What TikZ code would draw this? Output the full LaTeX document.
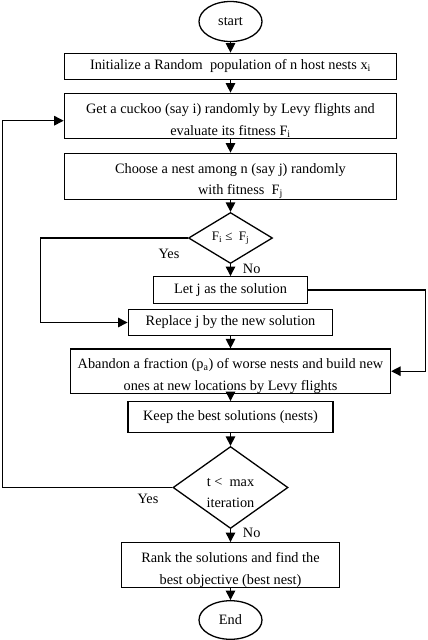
\documentclass[tikz,border=0pt]{standalone}
\usepackage{fontspec}
\setmainfont{Liberation Serif}
\usetikzlibrary{shapes.geometric,arrows.meta}
\newcommand{\dnstrut}{\rule{0pt}{19.5pt}}
\begin{document}
\begin{tikzpicture}[x=1pt,y=-1pt,
 font=\fontsize{14.3}{21.5}\selectfont,
 box/.style={draw,line width=1.3pt,rectangle,inner sep=0pt,align=center},
 oval/.style={draw,line width=1.3pt,ellipse,inner sep=0pt},
 dia/.style={draw,line width=1.3pt,diamond,inner sep=0pt,align=center},
 arr/.style={line width=1.3pt,-{Triangle[length=9.5pt,width=9.5pt]}},
 lbl/.style={inner sep=0pt,align=center}]
\useasboundingbox (0,0) rectangle (428,640);
\node[oval,minimum width=63pt,minimum height=40pt] (start) at (230.5,21.5) {start};
\node[box,minimum width=332.4pt,minimum height=26pt] (b1) at (230.5,66.3) {Initialize a Random\ \ population of n host nests x\textsubscript{i}};
\node[box,minimum width=332.4pt,minimum height=45pt] (b2) at (230.5,115.8) {\dnstrut Get a cuckoo (say i) randomly by Levy flights and\\evaluate its fitness F\textsubscript{i}};
\node[box,minimum width=332.4pt,minimum height=46pt] (b3) at (230.5,176.3) {\dnstrut Choose a nest among n (say j) randomly\\\hspace*{20pt}with fitness\ \ F\textsubscript{j}};
\node[dia,minimum width=84pt,minimum height=51pt] (d1) at (230.5,238) {\fontsize{13}{15}\selectfont F\textsubscript{i}\ ≤\ \ F\textsubscript{j}};
\node[box,minimum width=154pt,minimum height=26.6pt] (letj) at (230.5,290) {\rule{0pt}{11pt}Let j as the solution};
\node[box,minimum width=204.6pt,minimum height=26.4pt] (repl) at (230.5,322.5) {Replace j by the new solution};
\node[box,minimum width=320pt,minimum height=44.3pt] (aband) at (230.5,371.2) {\dnstrut Abandon a fraction (p\textsubscript{a}) of worse nests and build new\\ones at new locations by Levy flights};
\node[box,minimum width=205pt,minimum height=30.6pt] (keep) at (230.5,417) {Keep the best solutions (nests)};
\node[dia,minimum width=115pt,minimum height=82pt] (d2) at (230.5,487.5) {};
\node[lbl] (d2t) at (230.5,493) {t <\ \ max\\iteration};
\node[box,minimum width=217.6pt,minimum height=45pt] (rank) at (230.5,565.2) {\dnstrut Rank the solutions and find the\\best objective (best nest)};
\node[oval,minimum width=63pt,minimum height=38.6pt] (end) at (230.5,620) {End};

\draw[arr] (start) -- (b1);
\draw[arr] (b1) -- (b2);
\draw[arr] (b2) -- (b3);
\draw[arr] (b3) -- (d1);
\draw[arr] (d1) -- (letj);
\draw[arr] (repl) -- (aband);
\draw[arr] (aband) -- (keep);
\draw[arr] (keep) -- (d2);
\draw[arr] (d2) -- (rank);
\draw[arr] (rank) -- (end);

\coordinate (l1) at (40.7,238);
\draw[arr] (d1.west) -- (l1) |- (repl.west);
\coordinate (r1) at (425.7,290);
\draw[arr] (letj.east) -- (r1) |- (aband.east);
\coordinate (l2) at (2.5,487.5);
\coordinate (l2t) at (2.5,120.7);
\draw[arr] (d2.west) -- (l2) -- (l2t) -- (l2t -| b2.west);

\node[lbl] (y1) at (169,254) {Yes};
\node[lbl] (n1) at (251.7,269) {No};
\node[lbl] (y2) at (148,499) {Yes};
\node[lbl] (n2) at (251.7,533.3) {No};
\end{tikzpicture}
\end{document}
